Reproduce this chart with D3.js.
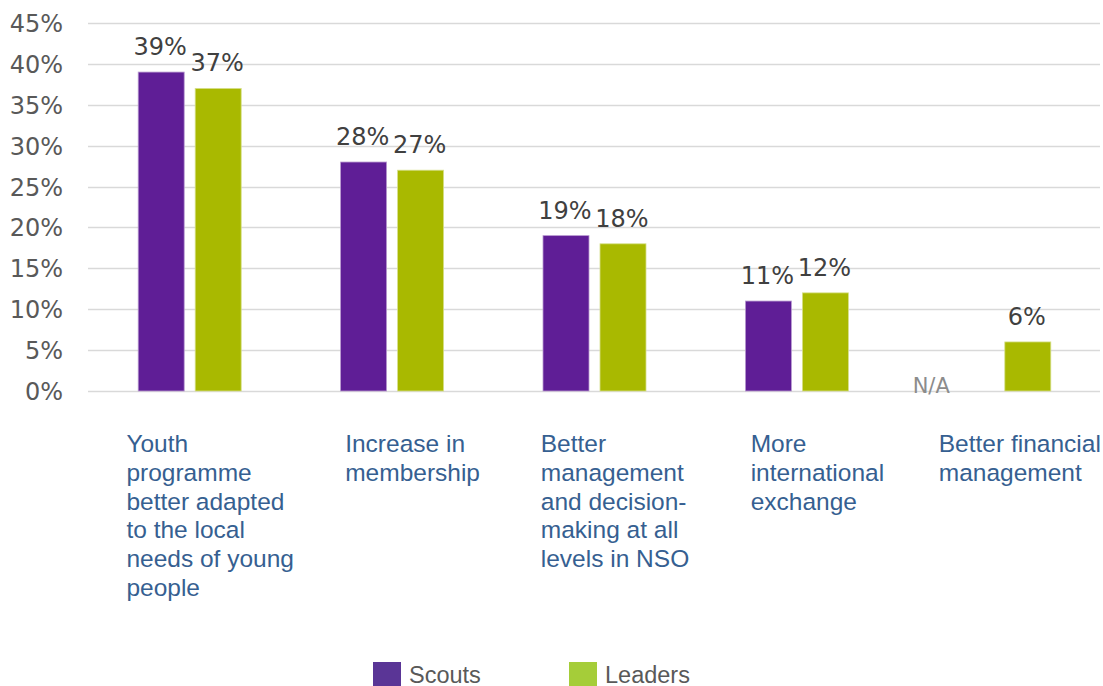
<!DOCTYPE html>
<html>
<head>
<meta charset="utf-8">
<script src="https://cdn.jsdelivr.net/npm/d3@7"></script>
<style>
  html, body { margin: 0; padding: 0; background: #fff; }
  svg { display: block; }
</style>
</head>
<body>
<svg id="chart" width="1103" height="686"></svg>
<script>
const categories = [
  "Youth\nprogramme\nbetter adapted\nto the local\nneeds of young\npeople",
  "Increase in\nmembership",
  "Better\nmanagement\nand decision-\nmaking at all\nlevels in NSO",
  "More\ninternational\nexchange",
  "Better financial\nmanagement"
];
const seriesNames = ["Scouts", "Leaders"];
const scouts = [39, 28, 19, 11, null];
const leaders = [37, 27, 18, 12, 6];
const yTicks = [0, 5, 10, 15, 20, 25, 30, 35, 40, 45];
const naLabel = "N/A";

const barColors = ["#5f1e96", "#a9b900"];
const legendColors = ["#5a3596", "#a5cd39"];

const svg = d3.select("#chart");
const plot = { left: 88, right: 1100, top: 23, bottom: 391 };

const x = d3.scaleBand().domain(d3.range(categories.length))
  .range([plot.left, plot.right]).padding(0);
const y = d3.scaleLinear().domain([0, 45]).range([plot.bottom, plot.top]);

// gridlines
svg.append("g").selectAll("line").data(yTicks).join("line")
  .attr("x1", plot.left).attr("x2", plot.right)
  .attr("y1", d => Math.round(y(d)) + 0.5).attr("y2", d => Math.round(y(d)) + 0.5)
  .attr("stroke", "#d9d9d9").attr("stroke-width", 1.5);

// y tick labels
svg.append("g").selectAll("text").data(yTicks).join("text")
  .attr("x", 63).attr("y", d => y(d) + 9)
  .attr("text-anchor", "end")
  .attr("font-family", "DejaVu Sans, Verdana, sans-serif")
  .attr("font-size", 24).attr("fill", "#595959")
  .text(d => d + "%");

const barW = 46;
const series = [scouts, leaders];
const offsets = [-51, 6];

series.forEach((vals, si) => {
  const g = svg.append("g");
  const data = vals.map((v, i) => ({ v, i })).filter(d => d.v != null);
  g.selectAll("rect").data(data).join("rect")
    .attr("x", d => x(d.i) + x.bandwidth() / 2 + offsets[si])
    .attr("y", d => y(d.v))
    .attr("width", barW)
    .attr("height", d => y(0) - y(d.v))
    .attr("fill", barColors[si])
    .attr("stroke", si === 0 ? "#b89ad0" : "#d6df8a")
    .attr("stroke-width", 0.8);
  g.selectAll("text").data(data).join("text")
    .attr("x", d => x(d.i) + x.bandwidth() / 2 + offsets[si] + barW / 2 - 1)
    .attr("y", d => y(d.v) - 17)
    .attr("text-anchor", "middle")
    .attr("font-family", "DejaVu Sans, Verdana, sans-serif")
    .attr("font-size", 24).attr("fill", "#404040")
    .text(d => d.v + "%");
});

// N/A labels for missing scouts values
scouts.forEach((v, i) => {
  if (v == null) {
    svg.append("text")
      .attr("x", x(i) + x.bandwidth() / 2 + offsets[0] + 2)
      .attr("y", y(0) + 2)
      .attr("text-anchor", "end")
      .attr("font-family", "DejaVu Sans, Verdana, sans-serif")
      .attr("font-size", 21).attr("fill", "#8c8c8c")
      .text(naLabel);
  }
});

// category labels
categories.forEach((c, i) => {
  const lines = c.split("\n");
  const t = svg.append("text")
    .attr("font-family", "Liberation Sans, Arial, sans-serif")
    .attr("font-size", 24.5).attr("fill", "#365f91");
  lines.forEach((ln, k) => {
    t.append("tspan").attr("x", 0).attr("y", 452 + k * 28.8).text(ln);
  });
  const w = d3.max(t.selectAll("tspan").nodes(), n => n.getComputedTextLength());
  const left = x(i) + x.bandwidth() / 2 + 21 - w / 2;
  t.selectAll("tspan").attr("x", left);
});

// legend
const legendX = [373, 569];
seriesNames.forEach((s, i) => {
  svg.append("rect").attr("x", legendX[i]).attr("y", 662)
    .attr("width", 28).attr("height", 24).attr("fill", legendColors[i]);
  svg.append("text").attr("x", legendX[i] + 36).attr("y", 683)
    .attr("font-family", "Liberation Sans, Arial, sans-serif")
    .attr("font-size", 23.5).attr("fill", "#595959").text(s);
});
</script>
</body>
</html>
